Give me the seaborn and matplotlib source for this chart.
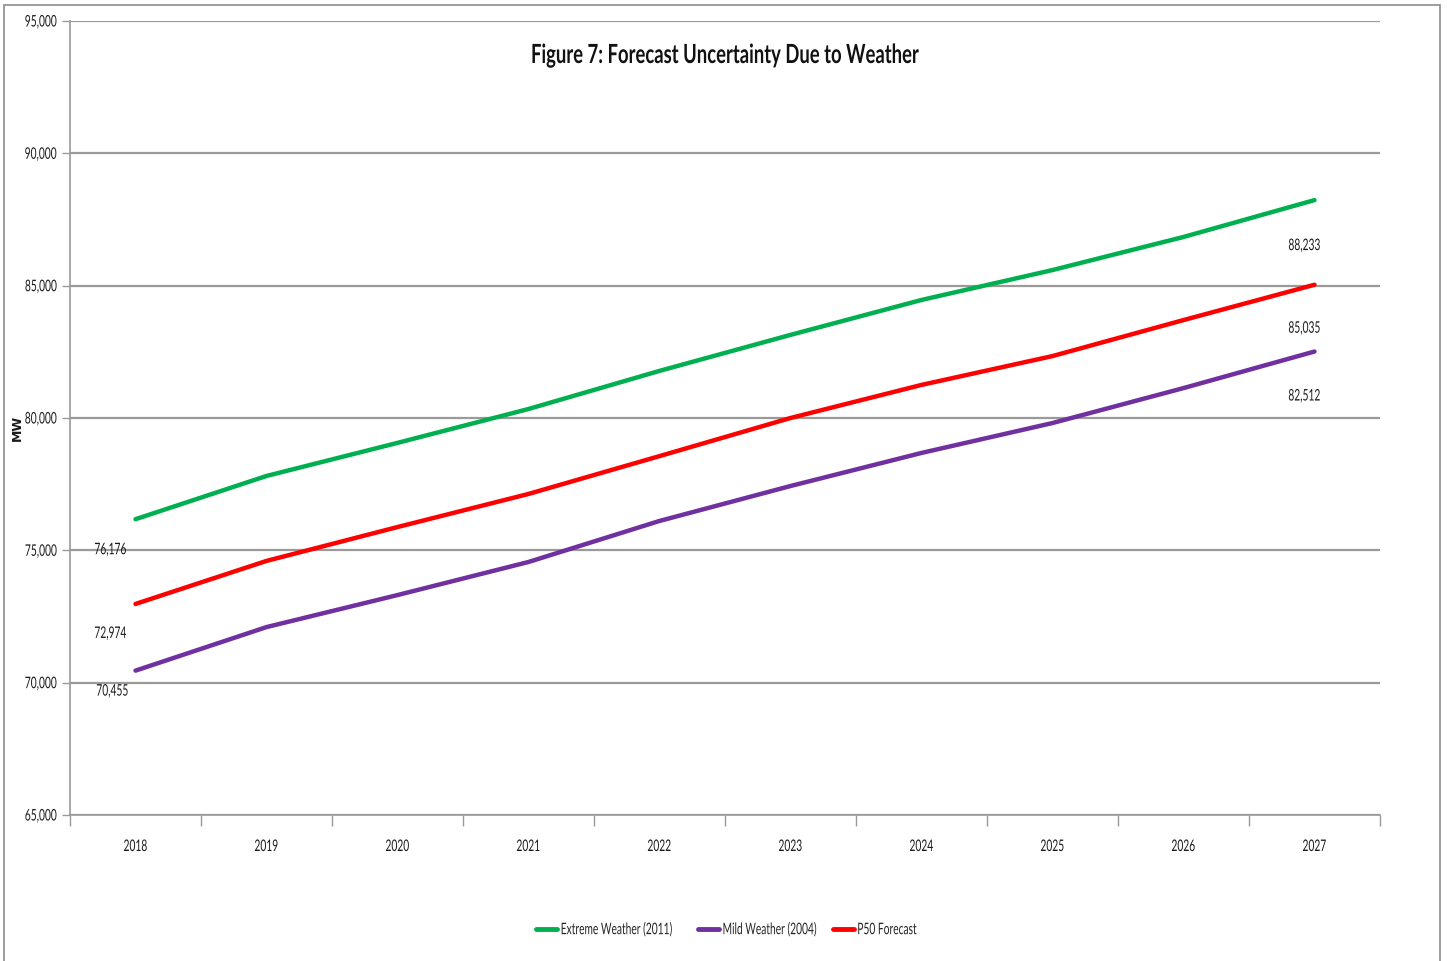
import matplotlib
matplotlib.use("Agg")
import matplotlib.pyplot as plt
import matplotlib.patches as mpatches
import matplotlib.ticker as mticker
from matplotlib.patheffects import AbstractPathEffect
from matplotlib.transforms import Affine2D
import seaborn as sns
import pandas as pd

years = ["2018", "2019", "2020", "2021", "2022", "2023", "2024", "2025", "2026", "2027"]
extreme_weather = [76176, 77810, 79060, 80340, 81780, 83140, 84460, 85590, 86840, 88233]
mild_weather = [70455, 72100, 73310, 74560, 76110, 77430, 78680, 79810, 81130, 82512]
p50_forecast = [72974, 74600, 75880, 77130, 78560, 80000, 81250, 82340, 83700, 85035]

series_names = ["Extreme Weather (2011)", "Mild Weather (2004)", "P50 Forecast"]
series_colors = ["#00b050", "#7030a0", "#ff0000"]


class Condensed(AbstractPathEffect):
    """Squeeze glyphs horizontally about the left, centre or right edge of the string."""

    def __init__(self, sx=0.66, anchor="center"):
        super().__init__()
        self.sx = sx
        self.anchor = anchor

    def draw_path(self, renderer, gc, tpath, affine, rgbFace=None):
        ext = affine.transform_path(tpath).get_extents()
        px = {"left": ext.x0, "center": 0.5 * (ext.x0 + ext.x1), "right": ext.x1}[self.anchor]
        squeeze = Affine2D().translate(-px, 0).scale(self.sx, 1).translate(px, 0)
        renderer.draw_path(gc, tpath, affine + squeeze, rgbFace)


sns.set_theme(style="white")
plt.rcParams["font.family"] = ["Lato", "DejaVu Sans"]

rows = []
for name, vals in zip(series_names, [extreme_weather, mild_weather, p50_forecast]):
    for i, (yr, v) in enumerate(zip(years, vals)):
        rows.append({"idx": i, "year": yr, "MW": v, "series": name})
df = pd.DataFrame(rows)

fig = plt.figure(figsize=(14.47, 9.62), dpi=100)
ax = fig.add_axes([70 / 1447, 1 - 816 / 962, 1310 / 1447, (816 - 22) / 962])

sns.lineplot(data=df, x="idx", y="MW", hue="series", hue_order=series_names,
             palette=series_colors, linewidth=3.2, ax=ax, legend=True)

ax.set_xlim(-0.5, len(years) - 0.5)
ax.set_ylim(65000, 95000)
ax.yaxis.set_major_locator(mticker.MultipleLocator(5000))
ax.yaxis.set_major_formatter(mticker.FuncFormatter(lambda v, p: f"{int(v):,}"))
ax.grid(axis="y", color="#9a9a9a", linewidth=1.6)
ax.set_axisbelow(True)

# category labels centred, tick marks on the category boundaries
ax.set_xticks(range(len(years)))
ax.set_xticklabels(years)
ax.set_xticks([i - 0.5 for i in range(len(years) + 1)], minor=True)
ax.tick_params(axis="x", which="major", length=0, pad=18, labelsize=11.5, colors="#1a1a1a")
ax.tick_params(axis="x", which="minor", length=8, width=1, color="#9a9a9a", direction="out",
               bottom=True)
ax.tick_params(axis="y", which="major", length=6, width=1, color="#9a9a9a", direction="out",
               labelsize=11.5, colors="#1a1a1a", pad=3, left=True)

for lab in ax.get_xticklabels():
    lab.set_path_effects([Condensed(0.64, "center")])
for lab in ax.get_yticklabels():
    lab.set_path_effects([Condensed(0.64, "right")])

for side in ["top", "right"]:
    ax.spines[side].set_visible(False)
for side in ["left", "bottom"]:
    ax.spines[side].set_color("#9a9a9a")
    ax.spines[side].set_linewidth(1.2)

ax.set_xlabel("")
ax.set_ylabel("MW", fontsize=9, fontweight="bold", family="DejaVu Sans", color="#1a1a1a")
ax.yaxis.set_label_coords(-46 / 1310, (816 - 428) / 794)

# endpoint value labels
label_offsets = {
    "Extreme Weather (2011)": ((-25, -31), (-10, -46)),
    "Mild Weather (2004)": ((-23, -21), (-10, -45)),
    "P50 Forecast": ((-25, -30), (-10, -44)),
}
for name, vals in zip(series_names, [extreme_weather, mild_weather, p50_forecast]):
    (dx0, dy0), (dx1, dy1) = label_offsets[name]
    for idx, (dx, dy) in ((0, (dx0, dy0)), (len(vals) - 1, (dx1, dy1))):
        t = ax.annotate(f"{vals[idx]:,}", (idx, vals[idx]), xytext=(dx, dy),
                        textcoords="offset pixels", ha="center", va="center",
                        fontsize=11.5, color="#1a1a1a")
        t.set_path_effects([Condensed(0.64, "center")])

title = fig.text(724 / 1447, 1 - 56 / 962, "Figure 7: Forecast Uncertainty Due to Weather",
                 ha="center", va="center", fontsize=19, fontweight="bold", color="#111111")
title.set_path_effects([Condensed(0.7, "center")])

handles, labels = ax.get_legend_handles_labels()
leg = ax.legend(handles, labels, loc="center", bbox_to_anchor=(743 / 1447, 1 - 931 / 962),
                bbox_transform=fig.transFigure, ncol=3, frameon=False, fontsize=11.5,
                handlelength=1.3, handletextpad=0.2, columnspacing=-2.3)
for t in leg.get_texts():
    t.set_path_effects([Condensed(0.64, "left")])
for h in leg.get_lines():
    h.set_linewidth(3.5)

# chart frame
fig.patches.append(mpatches.Rectangle((4 / 1447, -0.01), 1436 / 1447, 1 - 6 / 962 + 0.01,
                                      transform=fig.transFigure, fill=False,
                                      edgecolor="#8c8c8c", linewidth=1.2))

fig.savefig("out.png", dpi=100)
